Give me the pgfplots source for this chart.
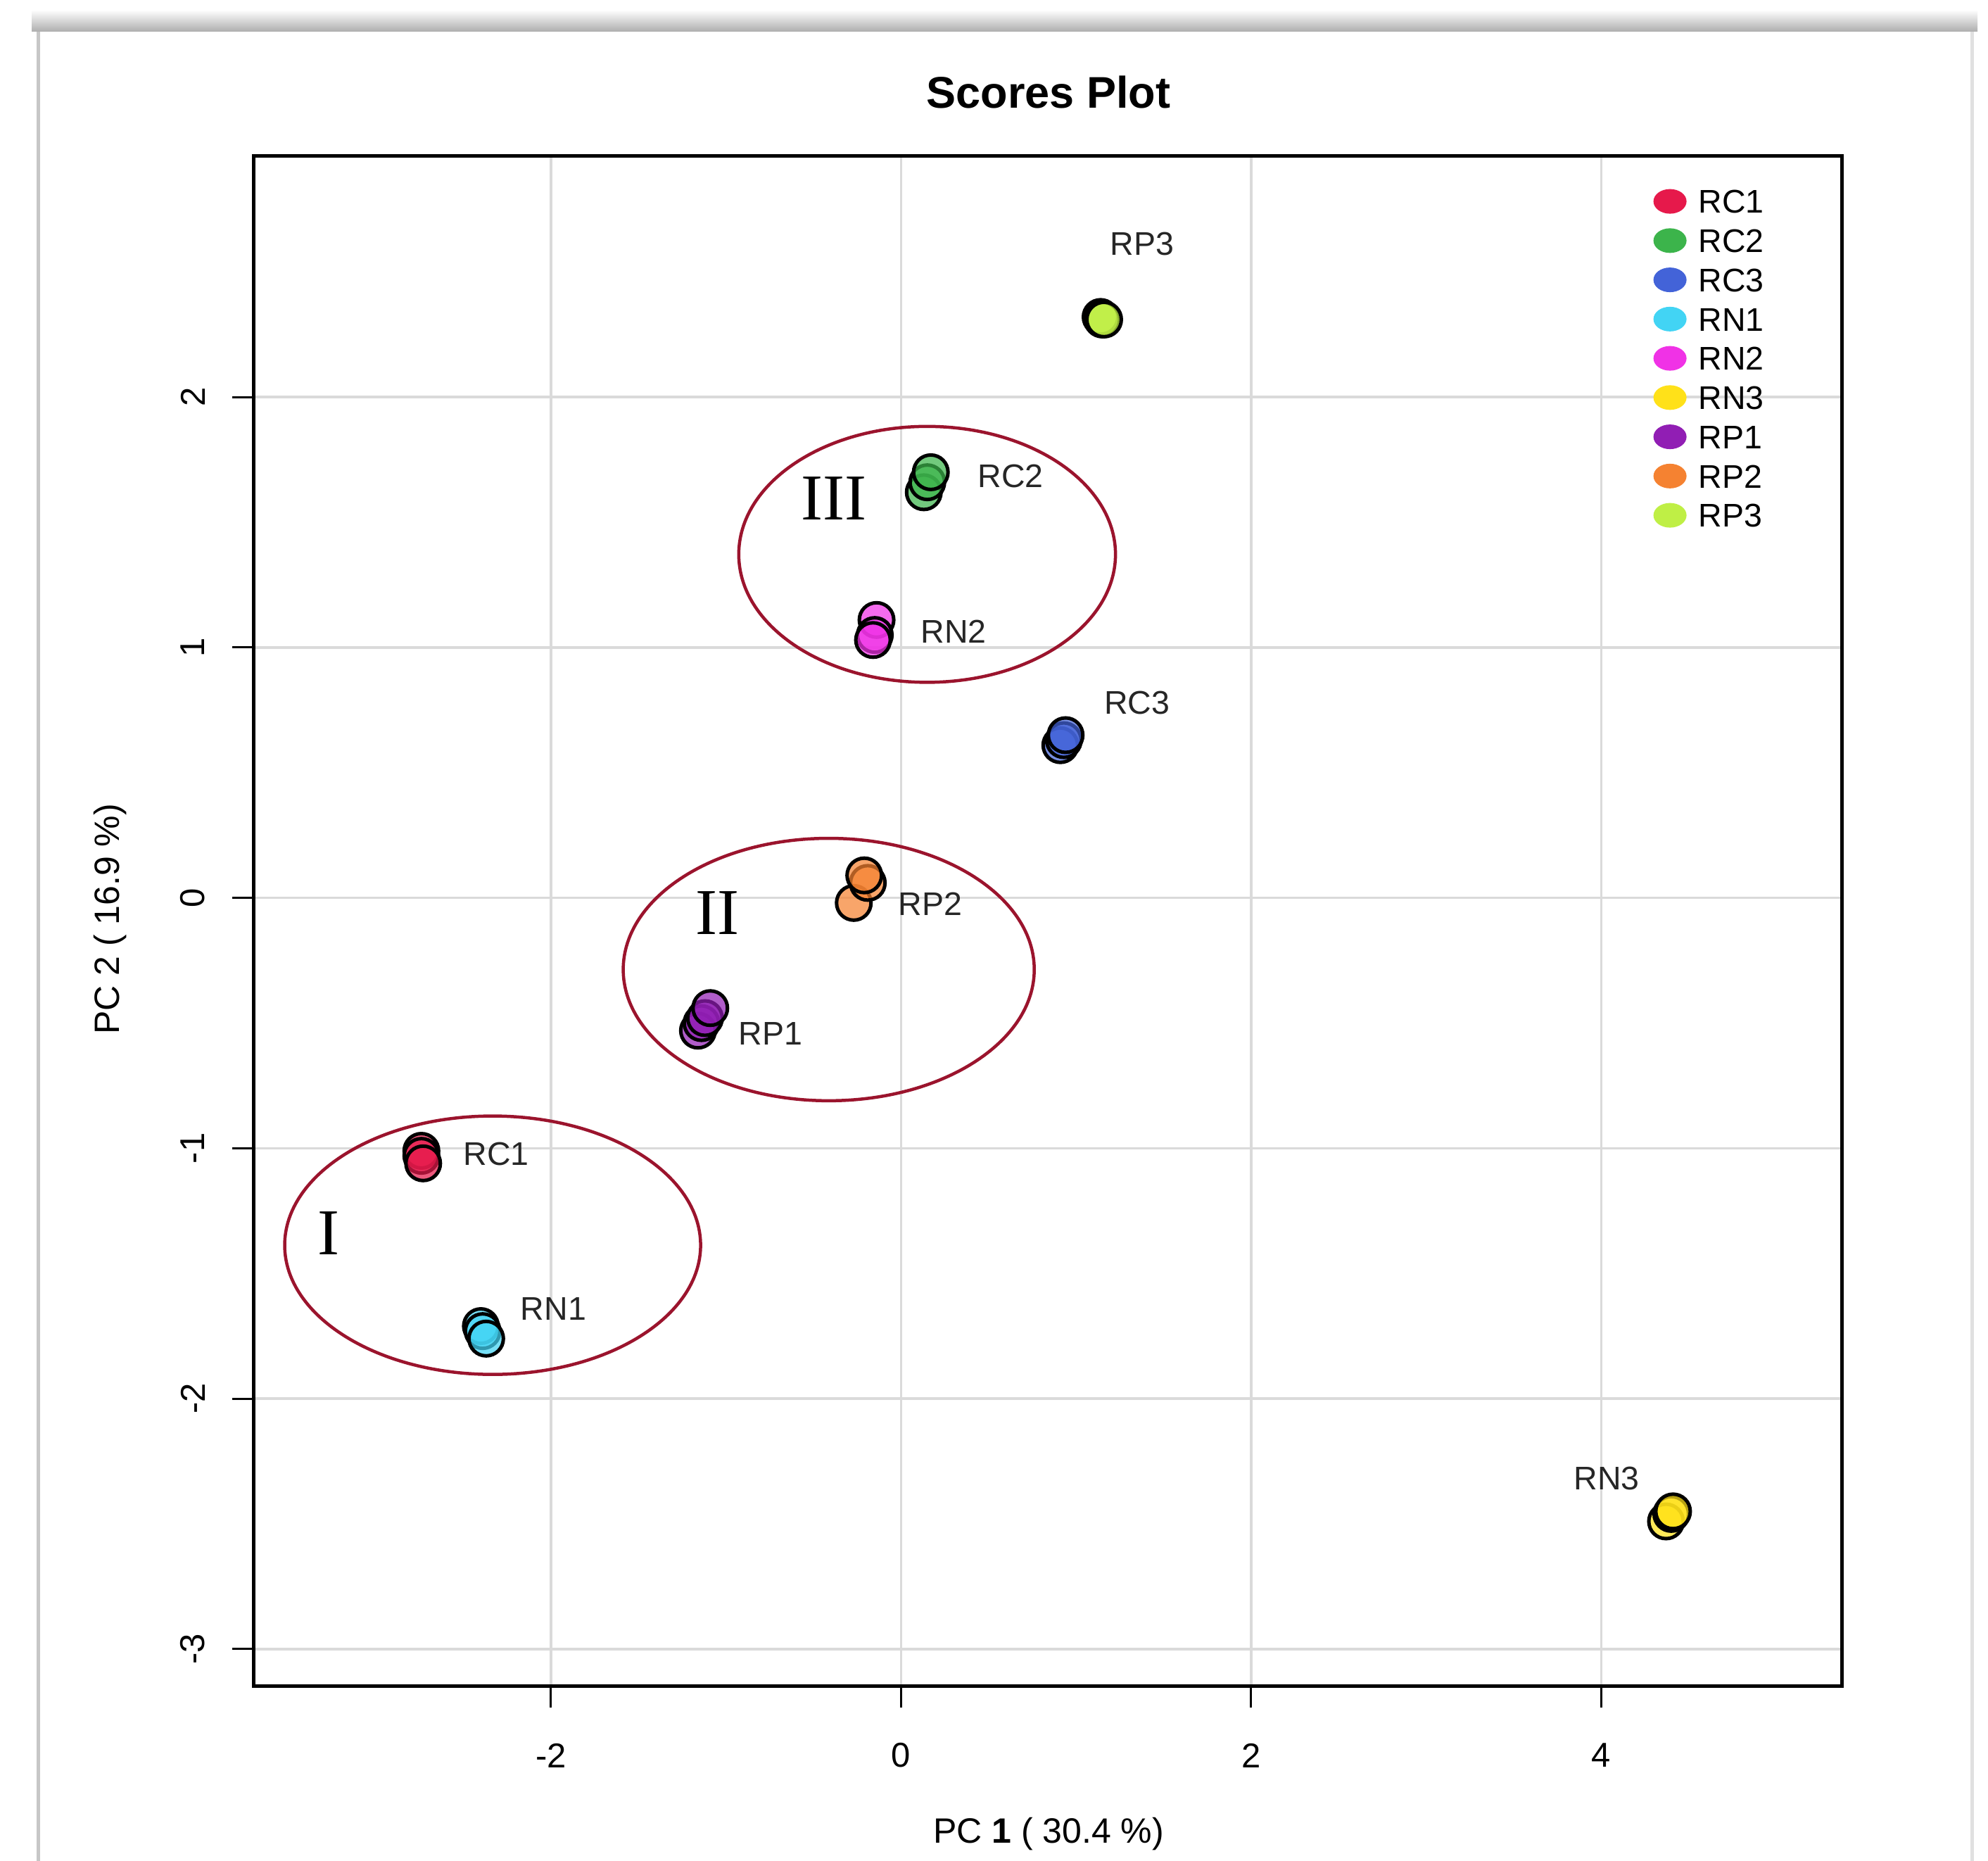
\documentclass[border=0pt]{standalone}
\usepackage{pgfplots}
\pgfplotsset{compat=1.18}
\usepackage{fontspec}
\setmainfont{Liberation Sans}
\newfontfamily\serifroman{Liberation Serif}
\definecolor{cRCa}{HTML}{E6194B}
\definecolor{cRCb}{HTML}{3CB44B}
\definecolor{cRCc}{HTML}{4363D8}
\definecolor{cRNa}{HTML}{42D4F4}
\definecolor{cRNb}{HTML}{F032E6}
\definecolor{cRNc}{HTML}{FFE119}
\definecolor{cRPa}{HTML}{911EB4}
\definecolor{cRPb}{HTML}{F58231}
\definecolor{cRPc}{HTML}{BFEF45}
\definecolor{ellred}{RGB}{155,20,45}
\definecolor{gridgray}{RGB}{218,218,218}
\pgfplotsset{
  grp/.style={only marks, mark=*, mark size=4.9pt,
    mark options={draw=black, fill=#1, fill opacity=0.72, draw opacity=1, line width=1pt}},
  leg/.style={legend image code/.code={\fill[#1] (0pt,0pt) ellipse [x radius=4.5pt, y radius=3.3pt];}},
}
\begin{document}
\begin{tikzpicture}
\useasboundingbox (0,0) rectangle (565pt,528.8pt);
% card frame
\shade[top color=white, bottom color=black!32] (9pt,519.8pt) rectangle (562pt,526pt);
\draw[black!22, line width=1pt] (10.8pt,0) -- (10.8pt,519.8pt);
\draw[black!12, line width=1pt] (560.5pt,0) -- (560.5pt,519.8pt);
\begin{axis}[
  at={(72pt,49.6pt)}, anchor=south west,
  scale only axis, width=451.6pt, height=434.8pt,
  xmin=-3.70, xmax=5.377, ymin=-3.149, ymax=2.962,
  xtick={-2,0,2,4}, ytick={-3,-2,-1,0,1,2},
  grid=major, major grid style={gridgray, line width=0.7pt},
  axis line style={black, line width=1pt},
  tick style={black, line width=0.6pt},
  tick align=outside, major tick length=6pt,
  xtick pos=bottom, ytick pos=left,
  ticklabel style={font=\fontsize{9.8}{11}\selectfont},
  /pgf/number format/assume math mode=true,
  xticklabel style={anchor=center}, xticklabel shift=13.6pt,
  yticklabel style={rotate=90, anchor=center}, yticklabel shift=11.2pt,
  legend style={at={(0.8807,0.979)}, anchor=north west, draw=none, fill=none,
    inner sep=0pt, font=\fontsize{9.3}{10}\selectfont, row sep=4.15pt, column sep=3.4pt,
    nodes={inner sep=0pt, text height=6.7pt, text depth=0pt}},
  legend cell align=left,
]
% RC1
\addplot[grp=cRCa, forget plot] coordinates {(-2.74,-1.01) (-2.74,-1.03) (-2.73,-1.06)};
% RN1
\addplot[grp=cRNa, forget plot] coordinates {(-2.40,-1.71) (-2.39,-1.73) (-2.37,-1.76)};
% RP1
\addplot[grp=cRPa, forget plot] coordinates {(-1.16,-0.53) (-1.14,-0.50) (-1.12,-0.48) (-1.09,-0.44)};
% RP2
\addplot[grp=cRPb, forget plot] coordinates {(-0.27,-0.02) (-0.19,0.06) (-0.21,0.09)};
% RN2
\addplot[grp=cRNb, forget plot] coordinates {(-0.14,1.11) (-0.15,1.05) (-0.16,1.03)};
% RC2
\addplot[grp=cRCb, forget plot] coordinates {(0.13,1.62) (0.15,1.66) (0.17,1.70)};
% RC3
\addplot[grp=cRCc, forget plot] coordinates {(0.91,0.61) (0.93,0.63) (0.94,0.65)};
% RP3
\addplot[grp=cRPc, forget plot] coordinates {(1.14,2.32) (1.15,2.31) (1.16,2.31)};
% RN3
\addplot[grp=cRNc, forget plot] coordinates {(4.37,-2.49) (4.40,-2.46) (4.41,-2.45)};

\addlegendimage{leg=cRCa}\addlegendentry{RC1}
\addlegendimage{leg=cRCb}\addlegendentry{RC2}
\addlegendimage{leg=cRCc}\addlegendentry{RC3}
\addlegendimage{leg=cRNa}\addlegendentry{RN1}
\addlegendimage{leg=cRNb}\addlegendentry{RN2}
\addlegendimage{leg=cRNc}\addlegendentry{RN3}
\addlegendimage{leg=cRPa}\addlegendentry{RP1}
\addlegendimage{leg=cRPb}\addlegendentry{RP2}
\addlegendimage{leg=cRPc}\addlegendentry{RP3}

% group ellipses
\draw[ellred, line width=0.9pt] (axis cs:-2.333,-1.387) ellipse [x radius=1.188, y radius=0.516];
\draw[ellred, line width=0.9pt] (axis cs:-0.413,-0.286) ellipse [x radius=1.174, y radius=0.524];
\draw[ellred, line width=0.9pt] (axis cs:0.149,1.372) ellipse [x radius=1.076, y radius=0.511];
\node[font=\serifroman\fontsize{18.6}{20}\selectfont] at (axis cs:-3.27,-1.34) {I};
\node[font=\serifroman\fontsize{18.6}{20}\selectfont] at (axis cs:-1.05,-0.06) {II};
\node[font=\serifroman\fontsize{18.6}{20}\selectfont] at (axis cs:-0.384,1.595) {III};
% point labels
\begin{scope}[every node/.style={font=\fontsize{9.3}{10}\selectfont, text=black!85}]
\node at (axis cs:-2.312,-1.023) {RC1};
\node at (axis cs:-1.986,-1.641) {RN1};
\node at (axis cs:-0.746,-0.542) {RP1};
\node at (axis cs:0.167,-0.025) {RP2};
\node at (axis cs:0.301,1.063) {RN2};
\node at (axis cs:0.626,1.684) {RC2};
\node at (axis cs:1.348,0.780) {RC3};
\node at (axis cs:1.377,2.613) {RP3};
\node at (axis cs:4.031,-2.318) {RN3};
\end{scope}
\end{axis}
\node[font=\bfseries\fontsize{12.6}{14}\selectfont] at (298pt,502.5pt) {Scores Plot};
\node[font=\fontsize{10}{12}\selectfont] at (298pt,7.6pt) {PC \textbf{1} ( 30.4 \%)};
\node[font=\fontsize{10}{12}\selectfont, rotate=90] at (31.3pt,267.6pt) {PC 2 ( 16.9 \%)};
\end{tikzpicture}
\end{document}
